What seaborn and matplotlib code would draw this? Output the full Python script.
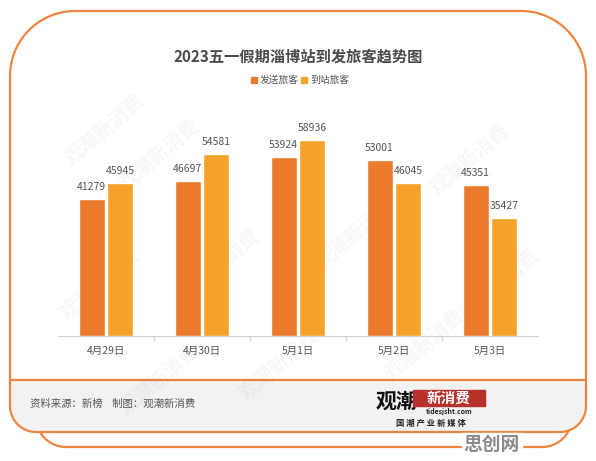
import numpy as np
import pandas as pd
import matplotlib.pyplot as plt
import seaborn as sns
from matplotlib.path import Path
from matplotlib.patches import PathPatch, Rectangle

sns.set_theme(style="white")
plt.rcParams['font.family'] = ['Noto Sans CJK SC', 'DejaVu Sans']

DATES = ['4月29日', '4月30日', '5月1日', '5月2日', '5月3日']
SERIES = ['发送旅客', '到站旅客']
SEND = [41279, 46697, 53924, 53001, 45351]
ARRIVE = [45945, 54581, 58936, 46045, 35427]

COLORS = ['#EC7A2D', '#F5A12A']
BORDER = '#EE8440'
TEXT = '#555555'

df = pd.DataFrame({
    '日期': DATES * 2,
    '系列': [SERIES[0]] * len(DATES) + [SERIES[1]] * len(DATES),
    '人数': SEND + ARRIVE,
})

W, H = 596, 461
fig = plt.figure(figsize=(W / 100, H / 100), dpi=100)
fig.patch.set_facecolor('white')

# background card drawn in pixel coordinates
bg = fig.add_axes([0, 0, 1, 1])
bg.set_xlim(0, W)
bg.set_ylim(H, 0)
bg.axis('off')


def rounded_path(x0, y0, x1, y1, r_top, r_bot):
    pts = []
    def arc(cx, cy, r, a0, a1):
        t = np.linspace(np.radians(a0), np.radians(a1), 20)
        return list(zip(cx + r * np.cos(t), cy + r * np.sin(t)))
    # y axis points down in pixel space
    pts += arc(x0 + r_top, y0 + r_top, r_top, 180, 270)
    pts += arc(x1 - r_top, y0 + r_top, r_top, 270, 360)
    pts += arc(x1 - r_bot, y1 - r_bot, r_bot, 0, 90)
    pts += arc(x0 + r_bot, y1 - r_bot, r_bot, 90, 180)
    pts.append(pts[0])
    return Path(pts)


# rear card
bg.add_patch(PathPatch(rounded_path(36, 300, 572, 447, 30, 30),
                       facecolor='white', edgecolor=BORDER, lw=1.6, zorder=1))
# main card
bg.add_patch(PathPatch(rounded_path(10, 11, 586, 432, 65, 26),
                       facecolor='white', edgecolor='none', zorder=2))
# footer fill
footer = PathPatch(rounded_path(10, 11, 586, 432, 65, 26),
                   facecolor='#F2F2F2', edgecolor='none', zorder=3)
bg.add_patch(footer)
footer.set_clip_path(Rectangle((0, 380), W, 100, transform=bg.transData))
bg.add_patch(PathPatch(rounded_path(10, 11, 586, 432, 65, 26),
                       facecolor='none', edgecolor=BORDER, lw=1.6, zorder=4))
bg.plot([10, 586], [380, 380], color=BORDER, lw=1.6, zorder=4)

# faint watermarks
for wx, wy in [(105, 130), (160, 155), (470, 160), (100, 285), (220, 265),
               (355, 235), (500, 285), (160, 380), (280, 365), (425, 345)]:
    bg.text(wx, wy, '观潮新消费', rotation=40, fontsize=14, fontweight='bold',
            color='#000000', alpha=0.035, ha='center', va='center', zorder=6)

bg.text(W / 2, 57, '2023五一假期淄博站到发旅客趋势图', ha='center', va='center',
        fontsize=11, color='#4A4A4A', fontweight='bold', zorder=5)

# legend
lx = 251
for i, s in enumerate(SERIES):
    bg.add_patch(Rectangle((lx, 77), 6, 6, color=COLORS[i], zorder=5))
    bg.text(lx + 9, 80, s, fontsize=7, color=TEXT, va='center', zorder=5)
    lx += 50

# footer text
bg.text(30, 404, '资料来源：新榜    制图：观潮新消费', fontsize=7.5,
        color=TEXT, va='center', zorder=5)
bg.text(376, 401, '观潮', fontsize=15, fontweight='heavy', color='#111111',
        va='center', zorder=5)
bg.add_patch(Rectangle((413, 390), 72, 16, color='#B8302A', zorder=5))
bg.text(449, 398, '新消费', fontsize=10.5, fontweight='bold', color='white',
        ha='center', va='center', zorder=6)
bg.text(449, 411, 'tidesjsht.com', fontsize=5, fontweight='bold', color='#222222',
        ha='center', va='center', zorder=5)
bg.text(431, 423, '国 潮 产 业 新 媒 体', fontsize=6, fontweight='bold', color='#222222',
        ha='center', va='center', zorder=5)

bg.add_patch(Rectangle((462, 433), 60, 22, color='white', zorder=5))
bg.text(491, 444, '思创网', fontsize=13.5, fontweight='bold', color='#8A8A8A',
        ha='center', va='center', zorder=6)

# main chart
ax = fig.add_axes([58 / W, 1 - 336 / H, 480 / W, 233 / H])
ax.set_facecolor('none')
sns.barplot(data=df, x='日期', y='人数', hue='系列', palette=COLORS,
            width=0.6, gap=0.1, saturation=1, legend=False, ax=ax)

for cont in ax.containers:
    ax.bar_label(cont, fmt='%d', padding=5, fontsize=7.5, color=TEXT)

ax.set_ylim(0, 70000)
ax.set_xlim(-0.5, len(DATES) - 0.5)
ax.set_xlabel('')
ax.set_ylabel('')
ax.set_yticks([])
for sp in ['top', 'right', 'left']:
    ax.spines[sp].set_visible(False)
ax.spines['bottom'].set_color('#D0D0D0')
ax.spines['bottom'].set_linewidth(0.8)
ax.set_xticks(range(len(DATES)))
ax.set_xticklabels(DATES, fontsize=7.5, color=TEXT)
ax.tick_params(axis='x', length=0, pad=7)
for b in np.arange(0.5, len(DATES) - 1, 1):
    ax.plot([b, b], [0, -1200], color='#D0D0D0', lw=0.8, clip_on=False)

fig.savefig('out.png', dpi=100, facecolor='white')
